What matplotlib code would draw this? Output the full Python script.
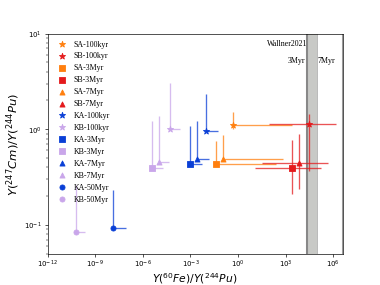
import matplotlib
matplotlib.use("Agg")
import matplotlib.pyplot as plt
import numpy as np

# Données (échelle log)
labels = ["SA-100kyr", "SB-100kyr", "SA-3Myr", "SB-3Myr", "SA-7Myr", "SB-7Myr",
          "KA-100kyr", "KB-100kyr", "KA-3Myr", "KB-3Myr", "KA-7Myr", "KB-7Myr",
          "KA-50Myr", "KB-50Myr"]
markers = ["*", "*", "s", "s", "^", "^", "*", "*", "s", "s", "^", "^", "o", "o"]
colors = ["#ff7f0e", "#e41a1c", "#ff7f0e", "#e41a1c", "#ff7f0e", "#e41a1c",
          "#0a3fd6", "#c9a6ea", "#0a3fd6", "#c9a6ea", "#0a3fd6", "#c9a6ea",
          "#0a3fd6", "#c9a6ea"]

# Y(60Fe)/Y(244Pu) : valeur, borne basse, borne haute
fe_ratio = [4.6e-1, 3.0e4, 3.9e-2, 2.4e3, 1.07e-1, 6.8e3,
            9.8e-3, 5.1e-5, 9.3e-4, 3.9e-6, 2.7e-3, 1.07e-5,
            1.35e-8, 5.8e-11]
fe_low = [4.6e-1, 8.8e1, 3.9e-2, 1.15e1, 1.07e-1, 3.05e1,
          9.8e-3, 5.1e-5, 9.3e-4, 3.9e-6, 2.7e-3, 1.07e-5,
          1.35e-8, 5.8e-11]
fe_high = [2.4e3, 1.4e6, 2.45e2, 1.6e5, 7.1e2, 4.8e5,
           5.1e-2, 2.2e-4, 5.0e-3, 1.85e-5, 1.45e-2, 4.6e-5,
           8.1e-8, 2.2e-10]

# Y(247Cm)/Y(244Pu) : valeur, borne basse, borne haute
cm_ratio = [1.10, 1.13, 0.43, 0.39, 0.49, 0.445,
            0.965, 1.0, 0.43, 0.395, 0.49, 0.45,
            0.093, 0.085]
cm_low = [1.01, 0.364, 0.43, 0.208, 0.49, 0.239,
          0.965, 1.0, 0.43, 0.395, 0.49, 0.45,
          0.093, 0.085]
cm_high = [1.50, 1.44, 0.746, 0.766, 0.863, 0.883,
           2.34, 3.06, 1.07, 1.21, 1.23, 1.38,
           0.232, 0.259]

wallner_3myr = 2.2e4
wallner_7myr = 1.0e5

plt.rcParams['font.family'] = ['DejaVu Sans']

fig, ax = plt.subplots(figsize=(6.4, 4.8), dpi=59.5)

# Bande Wallner2021
ax.axvspan(wallner_3myr, wallner_7myr, color='#c8c9c6', zorder=0)
ax.axvline(wallner_3myr, color='#888888', lw=2.5, zorder=1)
ax.axvline(wallner_7myr, color='#b8b8b8', lw=1, zorder=1)
ax.axvline(3.9e6, color='#999999', lw=2.5, zorder=1)

for i in range(len(labels)):
    xerr = [[fe_ratio[i] - fe_low[i]], [fe_high[i] - fe_ratio[i]]]
    yerr = [[cm_ratio[i] - cm_low[i]], [cm_high[i] - cm_ratio[i]]]
    ax.errorbar(fe_ratio[i], cm_ratio[i], xerr=xerr, yerr=yerr, fmt='none',
                ecolor=colors[i], elinewidth=1.6, alpha=0.75, zorder=2)
    ms = 60 if markers[i] == '*' else 38
    ax.scatter(fe_ratio[i], cm_ratio[i], marker=markers[i], color=colors[i],
               s=ms, label=labels[i], zorder=3)

ax.text(wallner_3myr, 7.9, 'Wallner2021', family='Liberation Serif', fontsize=9.5,
        ha='right', va='center')
ax.text(wallner_3myr * 0.8, 5.2, '3Myr', family='Liberation Serif', fontsize=9.5,
        ha='right', va='center')
ax.text(wallner_7myr * 1.05, 5.2, '7Myr', family='Liberation Serif', fontsize=9.5,
        ha='left', va='center')

ax.set_xscale('log')
ax.set_yscale('log')
ax.set_xlim(1e-12, 3.9e6)
ax.set_ylim(0.05, 10)
ax.set_xticks([1e-12, 1e-9, 1e-6, 1e-3, 1e0, 1e3, 1e6])
ax.tick_params(labelsize=8.5)
ax.tick_params(axis='x', pad=2.5)

ax.set_xlabel(r'$Y(^{60}Fe)/Y(^{244}Pu)$', fontsize=13)
ax.xaxis.set_label_coords(0.5, -0.077)
ax.set_ylabel(r'$Y(^{247}Cm)/Y(^{244}Pu)$', fontsize=14, labelpad=2)

ax.legend(loc='upper left', frameon=False, prop={'family': 'Liberation Serif', 'size': 9.5},
          handletextpad=0.5, labelspacing=0.5, borderaxespad=0.4)

plt.savefig('out.png', dpi=59.5)
plt.close(fig)
